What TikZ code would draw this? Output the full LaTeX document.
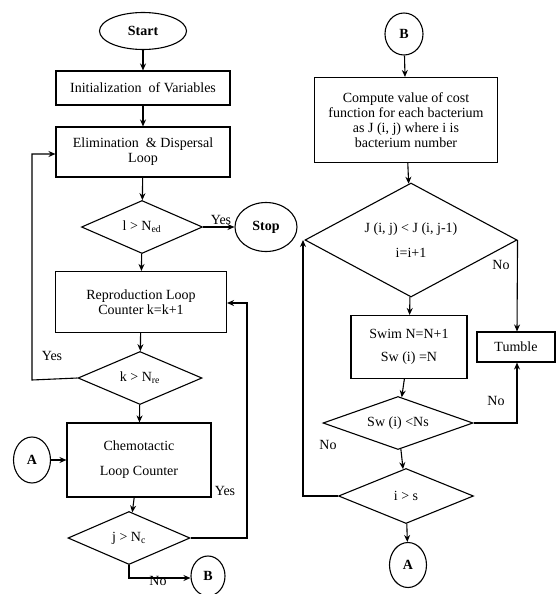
\documentclass[tikz,border=0pt]{standalone}
\usepackage{fontspec}
\setmainfont{Liberation Serif}
\usetikzlibrary{shapes.geometric,arrows.meta}
\begin{document}
\begin{tikzpicture}[x=1pt,y=-1pt,
  every node/.style={font=\fontsize{14}{15}\selectfont},
  box/.style={draw,line width=1.1pt,rectangle,inner sep=0pt,align=center},
  term/.style={draw,line width=1.1pt,ellipse,inner sep=0pt},
  dec/.style={draw,line width=1.1pt,diamond,aspect=2.2,inner sep=0pt,align=center},
  conn/.style={draw,line width=1.1pt},
  arr/.style={conn,-{Stealth[length=7pt,width=6pt]}},
  lbl/.style={inner sep=0pt}]
\useasboundingbox (0,0) rectangle (556,594);
% left column
\node[term,minimum width=87pt,minimum height=37pt] (start) at (143,31) {\bfseries Start};
\node[box,minimum width=174pt,minimum height=34pt] (init) at (143,88) {Initialization\ \ of Variables};
\node[box,minimum width=174pt,minimum height=50pt] (elim) at (143,152) {Elimination \ \& Dispersal\\Loop};
\node[dec,minimum width=121pt,minimum height=53pt] (d1) at (142,227) {l > N\textsubscript{ed}};
\node[term,minimum width=62pt,minimum height=49pt] (stop) at (266,227) {\bfseries Stop};
\node[box,minimum width=171pt,minimum height=61pt] (repro) at (141,302) {Reproduction Loop\\Counter k=k+1};
\node[dec,minimum width=124pt,minimum height=53pt] (d2) at (140,378) {k > N\textsubscript{re}};
\node[box,minimum width=144pt,minimum height=74pt] (chemo) at (139,460) {Chemotactic\\[10pt]Loop Counter};
\node[term,minimum width=37pt,minimum height=46pt] (aL) at (32,460) {\bfseries A};
\node[dec,minimum width=122pt,minimum height=53pt] (d3) at (129,538) {j > N\textsubscript{c}};
\node[term,minimum width=34pt,minimum height=40pt] (bL) at (208,576) {\bfseries B};
\coordinate (c1) at (32,380);
\coordinate (c2) at (32,154);
\coordinate (c3) at (247,538);
\coordinate (c4) at (247,303);
\coordinate (c5) at (129,578);
% right column
\node[term,minimum width=38pt,minimum height=42pt] (bR) at (404,34) {\bfseries B};
\node[box,minimum width=183pt,minimum height=85pt] (comp) at (406,120) {Compute value of cost\\function for each bacterium\\as J (i, j) where i is\\bacterium number};
\node[dec,aspect=1.86,minimum width=212pt,minimum height=114pt] (d4) at (411,240) {J (i, j) < J (i, j-1)\\[10pt]i=i+1};
\node[box,minimum width=116pt,minimum height=63pt] (swim) at (409,347) {Swim N=N+1\\[8pt]Sw (i) =N};
\node[box,minimum width=78pt,minimum height=30pt] (tumble) at (516,347) {Tumble};
\node[dec,minimum width=150pt,minimum height=53pt] (d5) at (398,423) {Sw (i) <Ns};
\node[dec,minimum width=135pt,minimum height=55pt] (d6) at (406,496) {i > s};
\node[term,minimum width=37pt,minimum height=45pt] (aR) at (408,565) {\bfseries A};
\coordinate (r1) at (517,240);
\coordinate (r2) at (517,423);
\coordinate (r3) at (303,496);
% left connectors
\draw[arr] (start) -- (init);
\draw[arr] (init) -- (elim);
\draw[arr] (elim) -- (d1);
\draw[arr] (d1) -- (stop);
\draw[arr] (d1) -- (repro);
\draw[arr] (repro) -- (d2);
\draw[arr] (d2) -- (chemo);
\draw[arr] (chemo) -- (d3);
\draw[arr] (aL) -- (chemo);
\draw[arr] (d2.west) -- (c1) -- (c2) -- (elim.west |- c2);
\draw[arr] (d3.east) -- (c3) -- (c4) -- (repro.east |- c4);
\draw[arr] (d3.south) -- (c5) -- (bL.west |- c5);
% right connectors
\draw[arr] (bR) -- (comp);
\draw[arr] (comp) -- (d4);
\draw[arr] (d4) -- (swim);
\draw[arr] (swim) -- (d5);
\draw[arr] (d5) -- (d6);
\draw[arr] (d6) -- (aR);
\draw[arr] (d4.east) -- (tumble.north -| r1);
\draw[arr] (d5.east) -- (r2) -- (tumble.south -| r2);
\draw[arr] (d6.west) -- (r3) -- (d4.west -| r3);
% labels
\node[lbl] (y1) at (221,220) {Yes};
\node[lbl] (y2) at (52,356) {Yes};
\node[lbl] (y3) at (225,491) {Yes};
\node[lbl] (n1) at (158,581) {No};
\node[lbl] (n2) at (501,265) {No};
\node[lbl] (n3) at (496,401) {No};
\node[lbl] (n4) at (328,445) {No};
\end{tikzpicture}
\end{document}
